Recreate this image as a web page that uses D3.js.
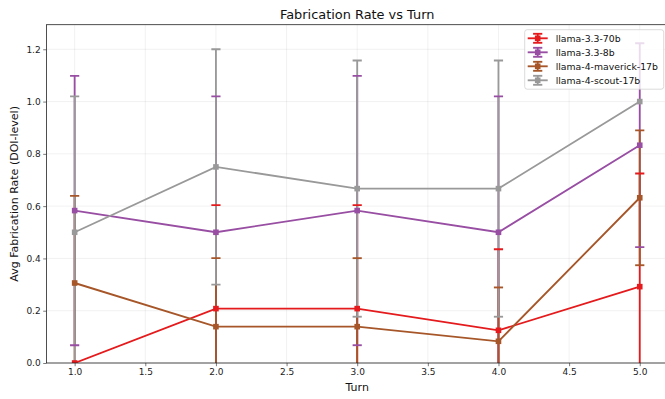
<!DOCTYPE html>
<html>
<head>
<meta charset="utf-8">
<script src="https://cdn.jsdelivr.net/npm/d3@7"></script>
<style>
    body { margin: 0; background: #fff; }
    svg { display: block; font-family: "DejaVu Sans", sans-serif; }
</style>
</head>
<body>
<svg id="chart" width="665" height="399"></svg>
<script>
// data
var turns = [1, 2, 3, 4, 5];
var seriesNames = ['llama-3.3-70b', 'llama-3.3-8b', 'llama-4-maverick-17b', 'llama-4-scout-17b'];
var seriesColors = ['#e41a1c', '#984ea3', '#a65628', '#999999'];
var means70b = [0, 0.208, 0.208, 0.125, 0.292];
var err70b = [0, 0.396, 0.396, 0.31, 0.433];
var means8b = [0.583, 0.5, 0.583, 0.5, 0.833];
var err8b = [0.515, 0.52, 0.515, 0.52, 0.39];
var meansMaverick = [0.306, 0.139, 0.139, 0.083, 0.632];
var errMaverick = [0.333, 0.262, 0.262, 0.206, 0.258];
var meansScout = [0.5, 0.75, 0.667, 0.667, 1.0];
var errScout = [0.52, 0.45, 0.49, 0.49, 0];
var xTicks = [1.0, 1.5, 2.0, 2.5, 3.0, 3.5, 4.0, 4.5, 5.0];
var yTicks = [0, 0.2, 0.4, 0.6, 0.8, 1.0, 1.2];

function drawChart() {
    var allMeans = [means70b, means8b, meansMaverick, meansScout];
    var allErrs = [err70b, err8b, errMaverick, errScout];

    var series = seriesNames.map(function (name, i) {
        return {
            name: name,
            color: seriesColors[i],
            points: turns.map(function (t, j) {
                return { x: t, y: allMeans[i][j], e: allErrs[i][j] };
            })
        };
    });

    var plotLeft = 46.4, plotRight = 668, plotTop = 24.7, plotBottom = 363;
    var lw = 1.85, capHalf = 4.6, markerSize = 5.6;

    var x = d3.scaleLinear().domain([0.8, 5.2]).range([plotLeft, plotRight]);
    var y = d3.scaleLinear().domain([0, 1.294]).range([plotBottom, plotTop]);

    var svg = d3.select('#chart');

    svg.append('defs').append('clipPath')
        .attr('id', 'plotClip')
        .append('rect')
        .attr('x', plotLeft).attr('y', plotTop)
        .attr('width', plotRight - plotLeft).attr('height', plotBottom - plotTop);

    // grid
    var grid = svg.append('g').attr('stroke', '#b0b0b0').attr('stroke-opacity', 0.3).attr('stroke-width', 0.6);
    grid.selectAll('.gx').data(xTicks).enter().append('line')
        .attr('x1', function (d) { return x(d); }).attr('x2', function (d) { return x(d); })
        .attr('y1', plotTop).attr('y2', plotBottom);
    grid.selectAll('.gy').data(yTicks).enter().append('line')
        .attr('x1', plotLeft).attr('x2', plotRight)
        .attr('y1', function (d) { return y(d); }).attr('y2', function (d) { return y(d); });

    var plot = svg.append('g').attr('clip-path', 'url(#plotClip)');

    // error bars first (lower zorder), then caps, then lines with markers
    series.forEach(function (s) {
        plot.append('g').selectAll('line')
            .data(s.points.filter(function (p) { return p.e > 0; }))
            .enter().append('line')
            .attr('stroke', s.color).attr('stroke-width', lw)
            .attr('x1', function (p) { return x(p.x); }).attr('x2', function (p) { return x(p.x); })
            .attr('y1', function (p) { return y(p.y - p.e); })
            .attr('y2', function (p) { return y(p.y + p.e); });
    });

    series.forEach(function (s) {
        var caps = [];
        s.points.forEach(function (p) {
            if (p.e > 0) {
                caps.push({ x: p.x, v: p.y - p.e });
                caps.push({ x: p.x, v: p.y + p.e });
            }
        });
        plot.append('g').selectAll('line')
            .data(caps)
            .enter().append('line')
            .attr('stroke', s.color).attr('stroke-width', lw)
            .attr('x1', function (c) { return x(c.x) - capHalf; })
            .attr('x2', function (c) { return x(c.x) + capHalf; })
            .attr('y1', function (c) { return y(c.v); })
            .attr('y2', function (c) { return y(c.v); });
    });

    var line = d3.line()
        .x(function (p) { return x(p.x); })
        .y(function (p) { return y(p.y); });

    series.forEach(function (s) {
        plot.append('path')
            .datum(s.points)
            .attr('fill', 'none')
            .attr('stroke', s.color)
            .attr('stroke-width', lw)
            .attr('d', line);
        plot.append('g').selectAll('rect')
            .data(s.points)
            .enter().append('rect')
            .attr('fill', s.color)
            .attr('x', function (p) { return x(p.x) - markerSize / 2; })
            .attr('y', function (p) { return y(p.y) - markerSize / 2; })
            .attr('width', markerSize).attr('height', markerSize);
    });

    // axes
    var xAxis = svg.append('g')
        .attr('transform', 'translate(0,' + plotBottom + ')')
        .call(d3.axisBottom(x).tickValues(xTicks).tickFormat(d3.format('.1f')).tickSize(3.2).tickPadding(2.5));
    var yAxis = svg.append('g')
        .attr('transform', 'translate(' + plotLeft + ',0)')
        .call(d3.axisLeft(y).tickValues(yTicks).tickFormat(d3.format('.1f')).tickSize(3.2).tickPadding(2.5));

    [xAxis, yAxis].forEach(function (a) {
        a.select('.domain').remove();
        a.selectAll('.tick line').attr('stroke', '#222').attr('stroke-width', 0.6);
        a.selectAll('.tick text').attr('fill', '#222').style('font-size', '9px').style('font-family', 'DejaVu Sans');
    });

    // spines
    svg.append('rect')
        .attr('x', plotLeft).attr('y', plotTop)
        .attr('width', plotRight - plotLeft).attr('height', plotBottom - plotTop)
        .attr('fill', 'none').attr('stroke', '#222').attr('stroke-width', 0.8);

    // titles
    svg.append('text')
        .attr('x', (plotLeft + plotRight) / 2).attr('y', 19)
        .attr('text-anchor', 'middle')
        .style('font-size', '12.9px').attr('fill', '#111')
        .text('Fabrication Rate vs Turn');

    svg.append('text')
        .attr('x', (plotLeft + plotRight) / 2).attr('y', 391)
        .attr('text-anchor', 'middle')
        .style('font-size', '11px').attr('fill', '#111')
        .text('Turn');

    svg.append('text')
        .attr('transform', 'translate(18,' + ((plotTop + plotBottom) / 2) + ') rotate(-90)')
        .attr('text-anchor', 'middle')
        .style('font-size', '11px').attr('fill', '#111')
        .text('Avg Fabrication Rate (DOI-level)');

    // legend
    var legend = svg.append('g').attr('transform', 'translate(524.7,29.7)');
    legend.append('rect')
        .attr('width', 139).attr('height', 59.5)
        .attr('rx', 2.5)
        .attr('fill', '#fff').attr('fill-opacity', 0.8)
        .attr('stroke', '#ccc').attr('stroke-width', 0.7);

    var items = legend.selectAll('.item')
        .data(series)
        .enter().append('g')
        .attr('transform', function (d, i) { return 'translate(0,' + (8.6 + i * 14) + ')'; });

    items.append('line')
        .attr('x1', 3).attr('x2', 23).attr('y1', 0).attr('y2', 0)
        .attr('stroke', function (d) { return d.color; }).attr('stroke-width', lw);
    items.append('line')
        .attr('x1', 13).attr('x2', 13).attr('y1', -4.5).attr('y2', 4.5)
        .attr('stroke', function (d) { return d.color; }).attr('stroke-width', lw);
    items.selectAll('.cap')
        .data(function (d) { return [-4.5, 4.5].map(function (v) { return { v: v, color: d.color }; }); })
        .enter().append('line')
        .attr('x1', 13 - capHalf).attr('x2', 13 + capHalf)
        .attr('y1', function (c) { return c.v; }).attr('y2', function (c) { return c.v; })
        .attr('stroke', function (c) { return c.color; }).attr('stroke-width', lw);
    items.append('rect')
        .attr('x', 13 - markerSize / 2).attr('y', -markerSize / 2)
        .attr('width', markerSize).attr('height', markerSize)
        .attr('fill', function (d) { return d.color; });
    items.append('text')
        .attr('x', 31).attr('y', 3.3)
        .style('font-size', '9.3px').attr('fill', '#111')
        .text(function (d) { return d.name; });
}

drawChart();
</script>
</body>
</html>
